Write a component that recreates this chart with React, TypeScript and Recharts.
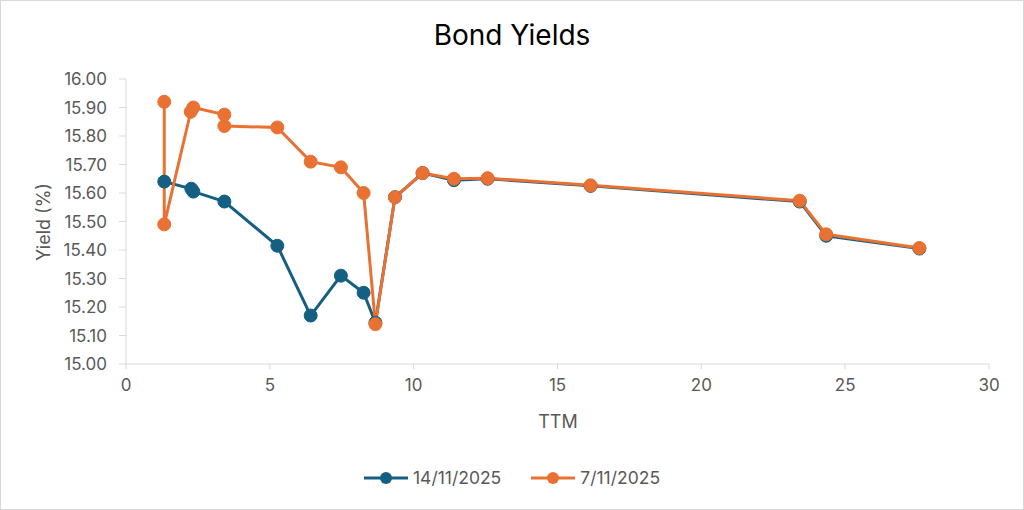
import React from 'react';
import { LineChart, Line, XAxis, YAxis, Label } from 'recharts';

// 14/11/2025 curve
const ttm14 = [1.33, 2.27, 2.34, 3.42, 5.26, 6.42, 7.47, 8.26, 8.67, 9.35, 10.31, 11.4, 12.57, 16.15, 23.42, 24.34, 27.58];
const yield14 = [15.64, 15.615, 15.605, 15.57, 15.415, 15.17, 15.31, 15.25, 15.145, 15.585, 15.67, 15.645, 15.65, 15.625, 15.57, 15.45, 15.405];

// 7/11/2025 curve
const ttm7 = [1.33, 1.33, 2.25, 2.34, 3.42, 3.42, 5.26, 6.42, 7.47, 8.26, 8.67, 9.35, 10.31, 11.4, 12.57, 16.15, 23.42, 24.34, 27.58];
const yield7 = [15.92, 15.49, 15.885, 15.9, 15.875, 15.835, 15.83, 15.71, 15.69, 15.6, 15.14, 15.585, 15.67, 15.65, 15.652, 15.627, 15.573, 15.455, 15.407];

const xTicks = [0, 5, 10, 15, 20, 25, 30];
const yTicks = [15.0, 15.1, 15.2, 15.3, 15.4, 15.5, 15.6, 15.7, 15.8, 15.9, 16.0];

const seriesNames = ['14/11/2025', '7/11/2025'];
const BLUE = '#156082';
const ORANGE = '#E97132';
const FONT = 'Inter, "Open Sans", sans-serif';
const GREY_TEXT = '#595959';
const AXIS = '#d9d9d9';

const data14 = ttm14.map((x, i) => ({ x, y: yield14[i] }));
const data7 = ttm7.map((x, i) => ({ x, y: yield7[i] }));

const LegendItem = ({ color, name }: { color: string; name: string }) => (
    <div style={{ display: 'flex', alignItems: 'center', gap: 5 }}>
        <svg width={44} height={14}>
            <line x1={0} y1={7} x2={44} y2={7} stroke={color} strokeWidth={3} />
            <circle cx={22} cy={7} r={6} fill={color} />
        </svg>
        <span style={{ fontSize: 17.5, color: GREY_TEXT }}>{name}</span>
    </div>
);

export default function App() {
    return (
        <div
            style={{
                position: 'absolute',
                left: 0,
                top: 0,
                width: 1024,
                height: 510,
                boxSizing: 'border-box',
                border: '1px solid #d9d9d9',
                background: '#fff',
                fontFamily: FONT,
            }}
        >
            <div
                style={{
                    position: 'absolute',
                    top: 17,
                    width: '100%',
                    textAlign: 'center',
                    fontSize: 28,
                    color: '#000',
                }}
            >
                Bond Yields
            </div>

            <LineChart
                width={1022}
                height={508}
                margin={{ top: 78, right: 34, bottom: 115, left: 0 }}
                style={{ position: 'absolute', left: 0, top: 0 }}
            >
                <XAxis
                    type="number"
                    dataKey="x"
                    domain={[0, 30]}
                    ticks={xTicks}
                    allowDataOverflow
                    stroke={AXIS}
                    tickSize={5}
                    tickMargin={10}
                    tick={{ fill: GREY_TEXT, fontSize: 17, fontFamily: FONT }}
                >
                    <Label
                        content={() => (
                            <text x={557} y={420} textAnchor="middle" dominantBaseline="central" fill={GREY_TEXT} fontSize={18} fontFamily={FONT}>
                                TTM
                            </text>
                        )}
                    />
                </XAxis>
                <YAxis
                    type="number"
                    domain={[15, 16]}
                    ticks={yTicks}
                    width={125}
                    stroke={AXIS}
                    tickSize={7}
                    tickMargin={12}
                    tickFormatter={(v: number) => v.toFixed(2)}
                    tick={{ fill: GREY_TEXT, fontSize: 17, fontFamily: FONT }}
                >
                    <Label
                        content={() => (
                            <text x={42} y={221} transform="rotate(-90 42 221)" textAnchor="middle" dominantBaseline="central" fill={GREY_TEXT} fontSize={18} fontFamily={FONT}>
                                Yield (%)
                            </text>
                        )}
                    />
                </YAxis>
                <Line
                    data={data14}
                    dataKey="y"
                    name={seriesNames[0]}
                    stroke={BLUE}
                    strokeWidth={3}
                    dot={{ r: 6.5, fill: BLUE, stroke: BLUE, strokeWidth: 1 }}
                    isAnimationActive={false}
                />
                <Line
                    data={data7}
                    dataKey="y"
                    name={seriesNames[1]}
                    stroke={ORANGE}
                    strokeWidth={3}
                    dot={{ r: 6.5, fill: ORANGE, stroke: ORANGE, strokeWidth: 1 }}
                    isAnimationActive={false}
                />
            </LineChart>

            <div
                style={{
                    position: 'absolute',
                    top: 466,
                    left: 0,
                    width: '100%',
                    display: 'flex',
                    justifyContent: 'center',
                    gap: 30,
                }}
            >
                <LegendItem color={BLUE} name={seriesNames[0]} />
                <LegendItem color={ORANGE} name={seriesNames[1]} />
            </div>
        </div>
    );
}
